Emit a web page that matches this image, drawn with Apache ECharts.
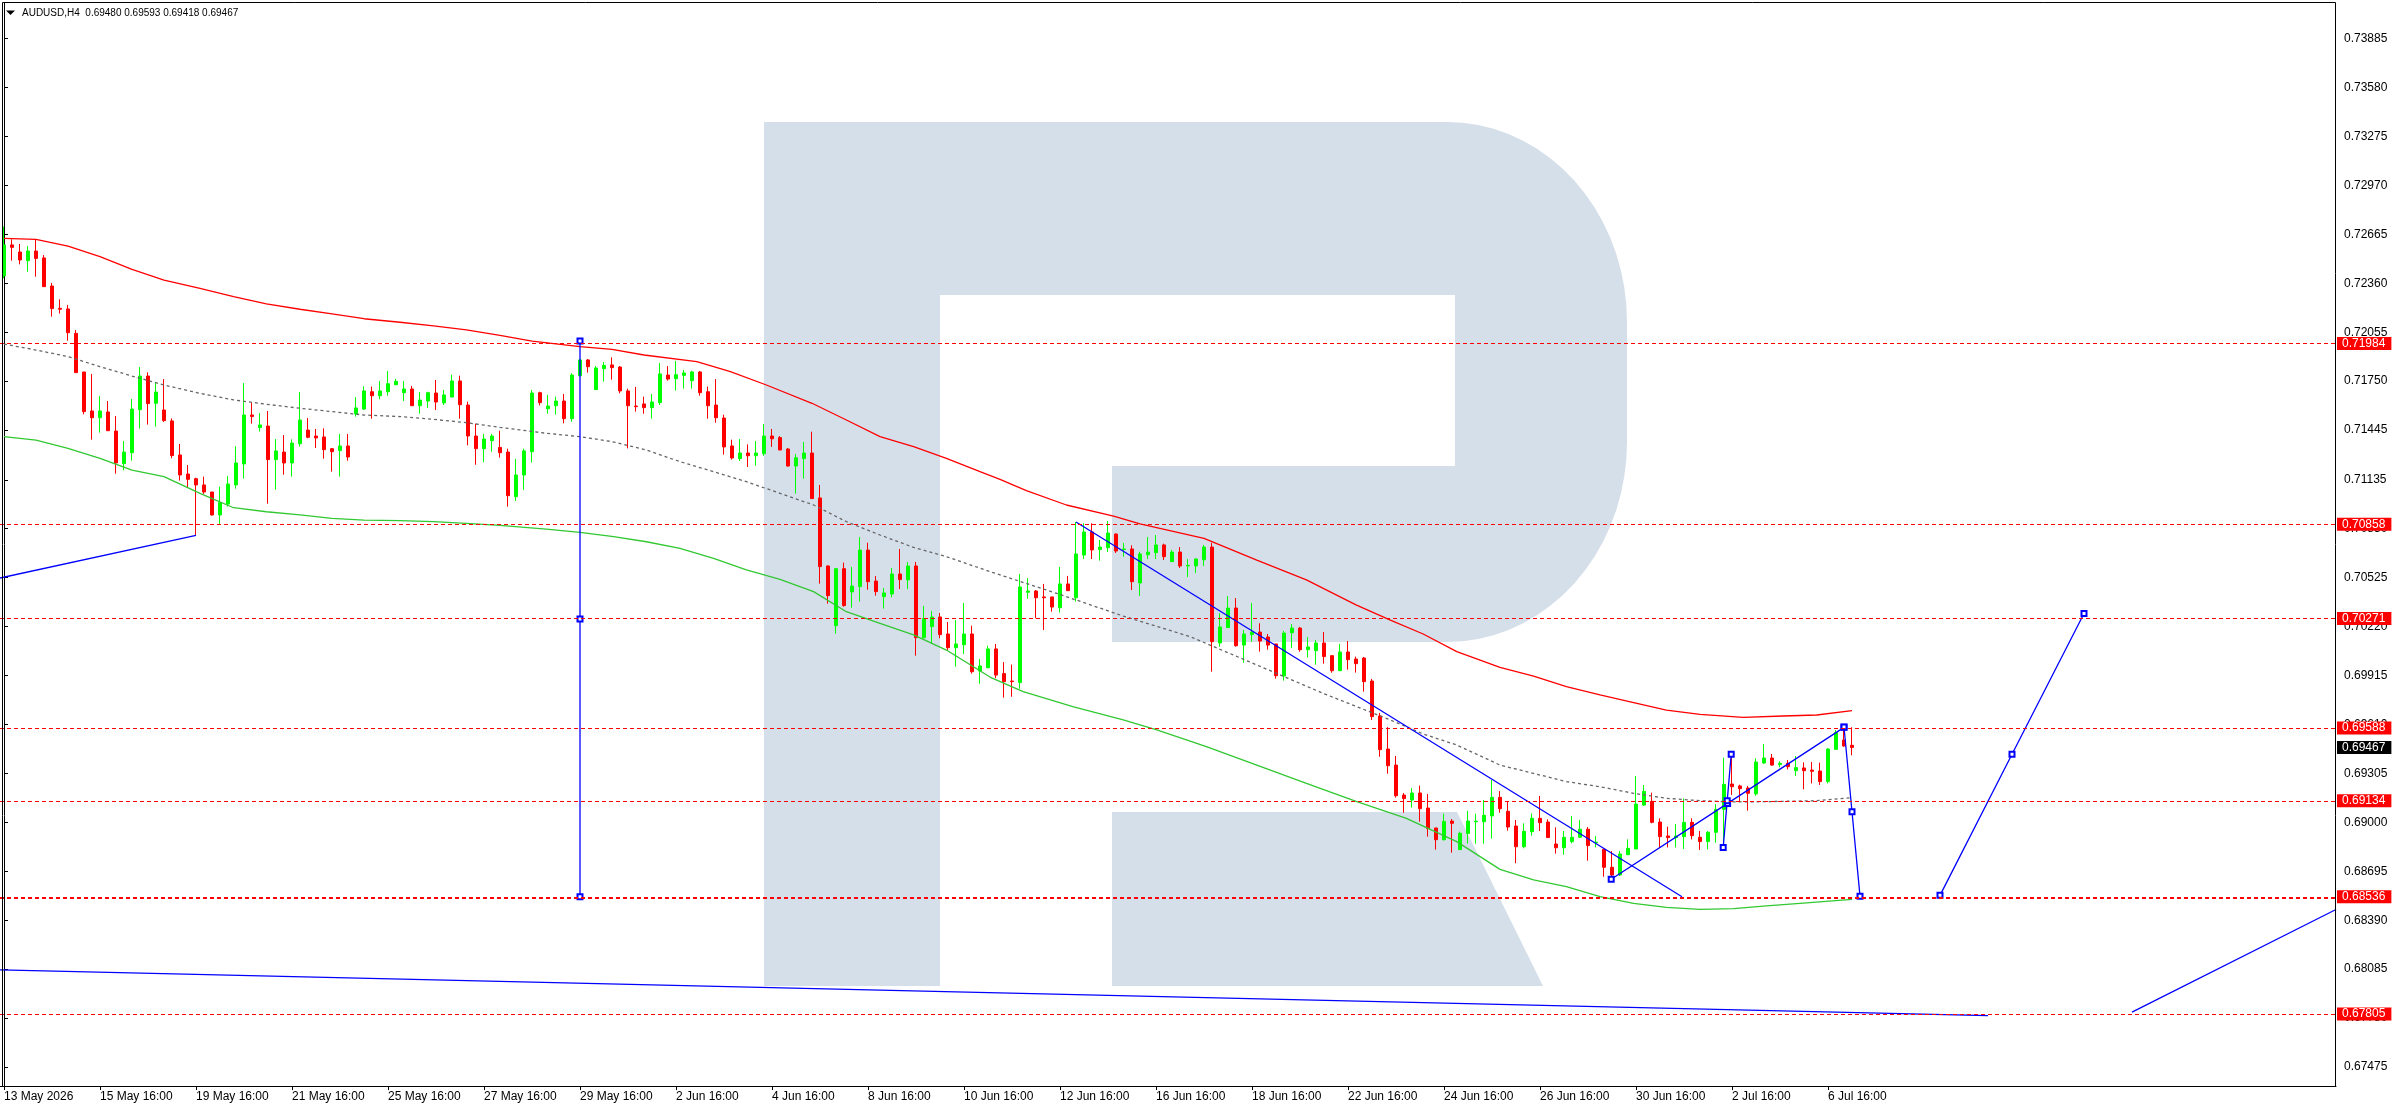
<!DOCTYPE html>
<html><head><meta charset="utf-8">
<script src="https://cdn.jsdelivr.net/npm/echarts@6/dist/echarts.min.js"></script>
<style>html,body{margin:0;padding:0;background:#fff}#c{width:2396px;height:1110px}</style>
</head><body><div id="c"></div>
<script>
// ---------------- DATA ----------------
const symbolTitle = 'AUDUSD,H4  0.69480 0.69593 0.69418 0.69467';
const tickLabels = ['13 May 2026','15 May 16:00','19 May 16:00','21 May 16:00','25 May 16:00','27 May 16:00','29 May 16:00','2 Jun 16:00','4 Jun 16:00','8 Jun 16:00','10 Jun 16:00','12 Jun 16:00','16 Jun 16:00','18 Jun 16:00','22 Jun 16:00','24 Jun 16:00','26 Jun 16:00','30 Jun 16:00','2 Jul 16:00','6 Jul 16:00'];
const barsPerTick = 12;
const slotCount = 292; // bars + empty future space
const yTicks = [0.73885,0.73580,0.73275,0.72970,0.72665,0.72360,0.72055,0.71750,0.71445,0.71135,0.70830,0.70525,0.70220,0.69915,0.69610,0.69305,0.69000,0.68695,0.68390,0.68085,0.67780,0.67475];
const yMin = 0.673567, yMax = 0.741069;
const levels = [0.71984,0.70858,0.70271,0.69588,0.69134,0.68536,0.67805];
const levelTwin = 0.68524;
const lastPrice = 0.69467;

// [open, high, low, close]
const ohlc = [
[0.72407,0.72713,0.72391,0.72599],[0.72599,0.72634,0.72501,0.72584],[0.72555,0.72605,0.72478,0.72505],[0.72501,0.72592,0.72432,0.72561],
[0.72561,0.72634,0.72401,0.72515],[0.72518,0.72536,0.72339,0.72339],[0.72343,0.72362,0.72152,0.72202],[0.72204,0.72260,0.72171,0.72198],
[0.72200,0.72225,0.72002,0.72052],[0.72048,0.72069,0.71803,0.71803],[0.71807,0.71807,0.71543,0.71560],[0.71564,0.71795,0.71385,0.71522],
[0.71522,0.71657,0.71429,0.71564],[0.71558,0.71626,0.71441,0.71441],[0.71439,0.71533,0.71173,0.71240],[0.71236,0.71377,0.71194,0.71308],
[0.71304,0.71639,0.71254,0.71576],[0.71572,0.71838,0.71454,0.71782],[0.71782,0.71805,0.71479,0.71610],[0.71612,0.71745,0.71466,0.71682],
[0.71570,0.71763,0.71495,0.71504],[0.71502,0.71518,0.71269,0.71286],[0.71290,0.71358,0.71130,0.71165],[0.71171,0.71227,0.71084,0.71138],
[0.71142,0.71148,0.70789,0.71103],[0.71103,0.71155,0.71047,0.71059],[0.71059,0.71059,0.70912,0.70916],[0.70916,0.71092,0.70860,0.70993],
[0.70984,0.71159,0.70968,0.71109],[0.71103,0.71344,0.71080,0.71240],[0.71234,0.71738,0.71142,0.71539],[0.71539,0.71618,0.71485,0.71529],
[0.71460,0.71551,0.71435,0.71477],[0.71470,0.71564,0.70986,0.71261],[0.71261,0.71389,0.71074,0.71315],[0.71308,0.71414,0.71167,0.71240],
[0.71240,0.71387,0.71155,0.71364],[0.71360,0.71682,0.71342,0.71508],[0.71445,0.71520,0.71394,0.71400],[0.71408,0.71452,0.71333,0.71396],
[0.71402,0.71456,0.71267,0.71323],[0.71329,0.71333,0.71186,0.71310],[0.71317,0.71421,0.71155,0.71346],[0.71346,0.71421,0.71254,0.71277],
[0.71545,0.71651,0.71529,0.71583],[0.71576,0.71718,0.71570,0.71689],[0.71684,0.71716,0.71516,0.71659],[0.71659,0.71751,0.71637,0.71689],
[0.71684,0.71813,0.71659,0.71734],[0.71728,0.71765,0.71724,0.71749],[0.71678,0.71751,0.71626,0.71701],[0.71701,0.71720,0.71597,0.71597],
[0.71597,0.71682,0.71547,0.71632],[0.71626,0.71684,0.71583,0.71678],[0.71676,0.71757,0.71570,0.71620],[0.71614,0.71695,0.71601,0.71664],
[0.71651,0.71790,0.71647,0.71751],[0.71751,0.71784,0.71516,0.71603],[0.71601,0.71622,0.71350,0.71408],[0.71408,0.71485,0.71229,0.71329],
[0.71329,0.71421,0.71244,0.71389],[0.71379,0.71421,0.71310,0.71408],[0.71337,0.71441,0.71273,0.71304],[0.71308,0.71329,0.70968,0.71036],
[0.71030,0.71265,0.71003,0.71165],[0.71165,0.71329,0.71072,0.71315],[0.71310,0.71695,0.71242,0.71676],[0.71678,0.71684,0.71599,0.71616],
[0.71578,0.71664,0.71547,0.71595],[0.71597,0.71653,0.71541,0.71626],[0.71626,0.71670,0.71487,0.71516],[0.71516,0.71799,0.71497,0.71788],
[0.71784,0.71888,0.71778,0.71882],[0.71882,0.71888,0.71803,0.71840],[0.71697,0.71844,0.71697,0.71832],[0.71828,0.71869,0.71747,0.71848],
[0.71851,0.71898,0.71759,0.71834],[0.71838,0.71844,0.71674,0.71689],[0.71689,0.71703,0.71331,0.71597],[0.71595,0.71714,0.71560,0.71591],
[0.71608,0.71653,0.71547,0.71585],[0.71585,0.71670,0.71516,0.71620],[0.71616,0.71863,0.71601,0.71795],[0.71788,0.71844,0.71753,0.71763],
[0.71765,0.71876,0.71691,0.71790],[0.71786,0.71819,0.71703,0.71801],[0.71753,0.71815,0.71703,0.71807],[0.71807,0.71813,0.71659,0.71678],
[0.71684,0.71716,0.71516,0.71597],[0.71601,0.71763,0.71491,0.71522],[0.71520,0.71541,0.71292,0.71340],[0.71346,0.71385,0.71261,0.71271],
[0.71267,0.71389,0.71252,0.71302],[0.71302,0.71356,0.71215,0.71285],[0.71285,0.71377,0.71223,0.71302],[0.71298,0.71483,0.71285,0.71408],
[0.71408,0.71452,0.71340,0.71391],[0.71398,0.71408,0.71319,0.71321],[0.71327,0.71333,0.71217,0.71221],[0.71221,0.71296,0.71049,0.71273],
[0.71267,0.71371,0.71142,0.71302],[0.71302,0.71435,0.71018,0.71018],[0.71022,0.71103,0.70488,0.70594],[0.70598,0.70602,0.70363,0.70413],
[0.70226,0.70585,0.70176,0.70581],[0.70581,0.70619,0.70344,0.70351],[0.70436,0.70592,0.70338,0.70473],[0.70469,0.70779,0.70376,0.70697],
[0.70697,0.70743,0.70450,0.70500],[0.70504,0.70535,0.70413,0.70438],[0.70407,0.70461,0.70332,0.70430],[0.70423,0.70585,0.70403,0.70548],
[0.70548,0.70704,0.70454,0.70513],[0.70511,0.70623,0.70454,0.70598],[0.70598,0.70623,0.70039,0.70151],[0.70151,0.70349,0.70145,0.70270],
[0.70220,0.70317,0.70114,0.70280],[0.70280,0.70305,0.70147,0.70170],[0.70174,0.70249,0.70074,0.70089],[0.70089,0.70261,0.69970,0.70112],
[0.70107,0.70367,0.70049,0.70174],[0.70174,0.70226,0.69927,0.69939],[0.69943,0.70018,0.69864,0.69975],[0.69964,0.70101,0.69960,0.70081],
[0.70081,0.70112,0.69898,0.69918],[0.69927,0.69999,0.69777,0.69877],[0.69881,0.69983,0.69783,0.69877],[0.69871,0.70548,0.69833,0.70467],
[0.70434,0.70523,0.70394,0.70442],[0.70442,0.70448,0.70272,0.70400],[0.70405,0.70486,0.70199,0.70400],[0.70405,0.70405,0.70313,0.70342],
[0.70338,0.70592,0.70307,0.70486],[0.70486,0.70536,0.70444,0.70444],[0.70400,0.70872,0.70376,0.70673],[0.70666,0.70864,0.70641,0.70810],
[0.70810,0.70864,0.70641,0.70698],[0.70700,0.70760,0.70631,0.70716],[0.70712,0.70878,0.70685,0.70803],[0.70797,0.70801,0.70679,0.70691],
[0.70700,0.70741,0.70656,0.70704],[0.70704,0.70727,0.70448,0.70500],[0.70492,0.70687,0.70411,0.70673],[0.70668,0.70779,0.70641,0.70685],
[0.70681,0.70791,0.70641,0.70729],[0.70729,0.70737,0.70635,0.70656],[0.70625,0.70698,0.70625,0.70685],[0.70685,0.70716,0.70585,0.70598],
[0.70598,0.70641,0.70529,0.70602],[0.70598,0.70648,0.70554,0.70641],[0.70637,0.70729,0.70598,0.70716],[0.70716,0.70743,0.69939,0.70126],
[0.70118,0.70303,0.70095,0.70218],[0.70214,0.70411,0.70214,0.70336],[0.70336,0.70398,0.70095,0.70101],[0.70105,0.70199,0.69995,0.70174],
[0.70170,0.70367,0.70126,0.70186],[0.70186,0.70241,0.70064,0.70130],[0.70155,0.70174,0.70076,0.70105],[0.70112,0.70112,0.69896,0.69914],
[0.69912,0.70193,0.69883,0.70180],[0.70182,0.70236,0.70087,0.70211],[0.70211,0.70218,0.70064,0.70076],[0.70076,0.70155,0.70027,0.70093],
[0.70070,0.70137,0.69983,0.70118],[0.70118,0.70186,0.69989,0.70033],[0.70039,0.70039,0.69933,0.69945],[0.69945,0.70112,0.69945,0.70062],
[0.70062,0.70130,0.69952,0.70014],[0.70018,0.70033,0.69933,0.69989],[0.70024,0.70031,0.69815,0.69877],[0.69881,0.69894,0.69638,0.69659],
[0.69663,0.69682,0.69409,0.69453],[0.69457,0.69594,0.69303,0.69353],[0.69357,0.69414,0.69154,0.69166],[0.69170,0.69183,0.69060,0.69148],
[0.69139,0.69214,0.69092,0.69183],[0.69183,0.69229,0.69004,0.69085],[0.69089,0.69177,0.68911,0.68961],[0.68965,0.68965,0.68830,0.68892],
[0.68892,0.69054,0.68886,0.69006],[0.69008,0.69021,0.68811,0.68994],[0.68830,0.68942,0.68830,0.68932],[0.68930,0.69071,0.68867,0.69008],
[0.69004,0.69054,0.68867,0.69008],[0.69004,0.69139,0.68867,0.69044],[0.69040,0.69264,0.68898,0.69156],[0.69156,0.69195,0.69060,0.69085],
[0.69069,0.69131,0.68948,0.68971],[0.68977,0.69015,0.68745,0.68848],[0.68848,0.68994,0.68838,0.68944],[0.68942,0.69056,0.68917,0.69025],
[0.69025,0.69164,0.68946,0.68998],[0.69002,0.69019,0.68905,0.68905],[0.68865,0.68969,0.68805,0.68842],[0.68842,0.68946,0.68798,0.68907],
[0.68880,0.69040,0.68869,0.68907],[0.68907,0.69015,0.68905,0.68957],[0.68957,0.68971,0.68761,0.68855],[0.68873,0.68915,0.68844,0.68877],
[0.68832,0.68832,0.68661,0.68720],[0.68720,0.68821,0.68661,0.68672],[0.68672,0.68821,0.68666,0.68803],[0.68798,0.68894,0.68798,0.68838],
[0.68834,0.69289,0.68834,0.69114],[0.69108,0.69233,0.69102,0.69193],[0.69131,0.69185,0.68994,0.69000],[0.69002,0.69025,0.68844,0.68911],
[0.68915,0.68973,0.68844,0.68905],[0.68905,0.68990,0.68844,0.68915],[0.68911,0.69148,0.68834,0.69000],[0.69000,0.69025,0.68894,0.68917],
[0.68907,0.68946,0.68828,0.68880],[0.68880,0.68946,0.68832,0.68938],[0.68938,0.69114,0.68873,0.69081],[0.69081,0.69403,0.68861,0.69237],
[0.69239,0.69413,0.69170,0.69222],[0.69227,0.69235,0.69129,0.69210],[0.69214,0.69227,0.69073,0.69181],[0.69177,0.69399,0.69166,0.69376],
[0.69370,0.69488,0.69364,0.69401],[0.69401,0.69426,0.69353,0.69357],[0.69360,0.69380,0.69343,0.69368],[0.69368,0.69389,0.69330,0.69347],
[0.69322,0.69413,0.69289,0.69341],[0.69339,0.69374,0.69206,0.69322],[0.69326,0.69376,0.69243,0.69318],[0.69320,0.69372,0.69233,0.69254],
[0.69254,0.69463,0.69243,0.69457],[0.69455,0.69576,0.69455,0.69559],[0.69513,0.69588,0.69472,0.69476],[0.69480,0.69593,0.69418,0.69467]
];

// moving averages: [bar index, value]
const redMA = [[0,0.72640],[4,0.72634],[8,0.72592],[12,0.72526],[16,0.72447],[20,0.72380],[24.5,0.72328],[28.7,0.72277],[32.8,0.72231],[37,0.72198],[41,0.72169],[45,0.72139],[49.5,0.72117],[53.7,0.72094],[57.8,0.72069],[62,0.72035],[66,0.72000],[72,0.71965],[76,0.71948],[80,0.71913],[86.6,0.71871],[90.8,0.71809],[95.3,0.71726],[101,0.71612],[105.3,0.71508],[109.5,0.71404],[113.7,0.71342],[117.8,0.71269],[122,0.71186],[124.5,0.71138],[127.8,0.71067],[132.8,0.70978],[138.7,0.70909],[142,0.70860],[150,0.70770],[156.6,0.70635],[162.8,0.70511],[169,0.70355],[173.3,0.70261],[177.4,0.70174],[181.6,0.70064],[187,0.69966],[191.2,0.69912],[195.3,0.69846],[199.5,0.69794],[203.7,0.69746],[207.8,0.69700],[212,0.69673],[217.4,0.69654],[222.4,0.69663],[226.6,0.69669],[231,0.69696]];
const grayMA = [[0,0.71981],[4,0.71944],[8,0.71903],[12,0.71840],[16,0.71782],[20,0.71726],[24.5,0.71674],[28.7,0.71633],[32.8,0.71606],[37,0.71581],[41,0.71560],[45,0.71539],[49.5,0.71529],[53.7,0.71512],[57.8,0.71491],[62,0.71462],[67.8,0.71425],[72,0.71404],[76,0.71373],[80.3,0.71321],[84.5,0.71248],[88.7,0.71186],[92.8,0.71123],[97,0.71051],[101.2,0.70978],[105.3,0.70874],[109.5,0.70791],[113.7,0.70714],[117.8,0.70656],[123.3,0.70562],[131.6,0.70427],[139.9,0.70286],[148.3,0.70157],[156.6,0.69981],[164.9,0.69804],[173.3,0.69638],[177.4,0.69551],[181.6,0.69482],[187,0.69357],[191.2,0.69305],[195.3,0.69254],[199.5,0.69222],[203.7,0.69181],[207.8,0.69150],[212,0.69135],[216.2,0.69127],[220.3,0.69129],[226.6,0.69135],[231,0.69154]];
const greenMA = [[0,0.71404],[4,0.71383],[8,0.71331],[12,0.71269],[16,0.71196],[20,0.71155],[24.5,0.71051],[28.7,0.70961],[32.8,0.70936],[37,0.70916],[41,0.70895],[45,0.70884],[49.5,0.70880],[53.7,0.70874],[57.8,0.70864],[62,0.70851],[67.8,0.70828],[72,0.70808],[76.2,0.70781],[80.3,0.70749],[84.5,0.70708],[88.7,0.70646],[92.8,0.70573],[97,0.70515],[101.2,0.70438],[105.3,0.70313],[109.5,0.70240],[113.7,0.70168],[117.8,0.70074],[123.3,0.69904],[127.4,0.69815],[133.6,0.69721],[139.9,0.69638],[144.1,0.69576],[150.3,0.69472],[156.6,0.69357],[162.8,0.69243],[169.1,0.69129],[175.3,0.69025],[181.6,0.68880],[187,0.68707],[191.2,0.68641],[195.3,0.68599],[199.5,0.68537],[203.7,0.68495],[207.8,0.68470],[212,0.68458],[216.2,0.68462],[220.3,0.68479],[224.5,0.68495],[231,0.68520]];

// drawn objects: [bar index, price]
const lineLeft = [[-0.5,0.70523],[24,0.70789]];
const lineVertical = [[72,0.72000],[72,0.70268],[72,0.68536]];
const lineChannel = [[134,0.70872],[209.75,0.68536]];
const lineWave = [[200.9,0.68645],[215.45,0.69118],[230,0.69592]];
const lineSpike = [[214.9,0.68844],[215.4,0.69134],[215.9,0.69424]];
const forecastDown = [[230,0.69594],[231,0.69066],[232,0.68540]];
const forecastUp = [[242,0.68545],[251,0.69424],[260,0.70302]];
const lineBottom = [[-0.5,0.68080],[248,0.67795]];
const lineRight = [[266,0.67817],[291.5,0.68457]];

// ---------------- CHART ----------------
const FONT = '"Liberation Sans", Arial, sans-serif';
const categories = Array.from({length: slotCount}, (_, i) => String(i));
const showTick = (i) => i % barsPerTick === 0 && i / barsPerTick < tickLabels.length;

function logoPoints() {
  const p = [[764,122],[1447,122]];
  for (let a = -90; a <= 0; a += 5) { const r = a*Math.PI/180; p.push([1447+180*Math.cos(r), 322+200*Math.sin(r)]); }
  for (let a = 0; a <= 90; a += 5) { const r = a*Math.PI/180; p.push([1447+180*Math.cos(r), 442+200*Math.sin(r)]); }
  p.push([1112,642],[1112,466],[1455,466],[1455,295],[940,295],[940,986],[764,986]);
  return p;
}

const blue = '#0000ff';
function blueSeries(data, squares) {
  return {type:'line', xAxisIndex:1, yAxisIndex:0, data, z:5,
    symbol: squares ? 'emptyRect' : 'none', symbolSize: 5, showSymbol: !!squares,
    itemStyle:{color: blue, borderWidth:1}, lineStyle:{color: blue, width:1.3}, silent:true};
}

const levelLabel = (bg) => ({show:true, position:'end', distance:1, formatter: p => Number(p.value).toFixed(5),
  color:'#fff', backgroundColor:bg, fontFamily:FONT, fontSize:12, lineHeight:12, padding:[1,6,0,5]});

const chart = echarts.init(document.getElementById('c'), null, {renderer:'canvas'});
chart.setOption({
  animation:false,
  backgroundColor:'#fff',
  grid:{left:0, right:60, top:3, bottom:24, containLabel:false},
  xAxis:[
    {type:'category', data:categories, boundaryGap:true,
     axisLine:{show:true, lineStyle:{color:'#000', width:1}},
     axisTick:{show:true, alignWithLabel:true, interval:(i)=>showTick(i), length:4, lineStyle:{color:'#000'}},
     axisLabel:{interval:(i)=>showTick(i), formatter:(v,i)=>tickLabels[Math.round(i/barsPerTick)], align:'left', margin:5,
       fontFamily:FONT, fontSize:12, color:'#000'},
     splitLine:{show:false}},
    {type:'value', min:-0.5, max:slotCount-0.5, show:false}
  ],
  yAxis:{type:'value', position:'right', min:yMin, max:yMax, scale:true,
    axisLine:{show:true, lineStyle:{color:'#000', width:1}},
    axisTick:{show:true, customValues:yTicks, length:4, lineStyle:{color:'#000'}},
    axisLabel:{customValues:yTicks, formatter:v=>v.toFixed(5), margin:8, fontFamily:FONT, fontSize:12, color:'#000'},
    splitLine:{show:false}},
  graphic:[
    {type:'polygon', shape:{points:logoPoints()}, style:{fill:'#d5dfea'}, z:-10, silent:true},
    {type:'polygon', shape:{points:[[1112,812],[1457,812],[1543,986],[1112,986]]}, style:{fill:'#d5dfea'}, z:-10, silent:true},
    {type:'rect', shape:{x:2.5, y:2.5, width:2333, height:1084}, style:{fill:null, stroke:'#000', lineWidth:1}, z:100, silent:true},
    {type:'polygon', shape:{points:[[6,10.5],[15,10.5],[10.5,15]]}, style:{fill:'#000'}, z:100, silent:true},
    {type:'text', x:22, y:13, style:{text:symbolTitle, fill:'#000', font:'10px "Liberation Sans", Arial, sans-serif', textVerticalAlign:'middle'}, z:100, silent:true}
  ],
  series:[
    {type:'candlestick', xAxisIndex:0, yAxisIndex:0, z:2, barWidth:4,
     data: ohlc.map(([o,h,l,c]) => [o,c,l,h]),
     itemStyle:{color:'#00ff00', color0:'#ff0000', borderColor:'#00ff00', borderColor0:'#ff0000', borderColorDoji:'#00ff00', borderWidth:1},
     markLine:{silent:true, symbol:['none','none'], animation:false, z:6, precision:5,
       lineStyle:{color:'#ff0000', type:[4,3], width:1},
       data:[
         ...levels.map(v => ({yAxis:v, label:levelLabel('#ff0000')})),
         {yAxis:levelTwin, label:{show:false}}
       ]}},
    {type:'line', xAxisIndex:1, data:[], z:7, silent:true,
     markLine:{silent:true, symbol:['none','none'], animation:false, precision:5,
       lineStyle:{color:'rgba(0,0,0,0)', width:1},
       data:[{yAxis:lastPrice, label:levelLabel('#000000')}]}},
    {type:'line', xAxisIndex:1, data:redMA, showSymbol:false, z:3, silent:true, lineStyle:{color:'#ff0000', width:1.3}},
    {type:'line', xAxisIndex:1, data:grayMA, showSymbol:false, z:3, silent:true, lineStyle:{color:'#666666', width:1.3, type:[3,3]}},
    {type:'line', xAxisIndex:1, data:greenMA, showSymbol:false, z:3, silent:true, lineStyle:{color:'#32c832', width:1.3}},
    blueSeries(lineLeft, false),
    blueSeries(lineVertical, true),
    blueSeries(lineChannel, false),
    blueSeries(lineWave, true),
    blueSeries(lineSpike, true),
    blueSeries(forecastDown, true),
    blueSeries(forecastUp, true),
    blueSeries(lineBottom, false),
    blueSeries(lineRight, false)
  ]
});
</script></body></html>
